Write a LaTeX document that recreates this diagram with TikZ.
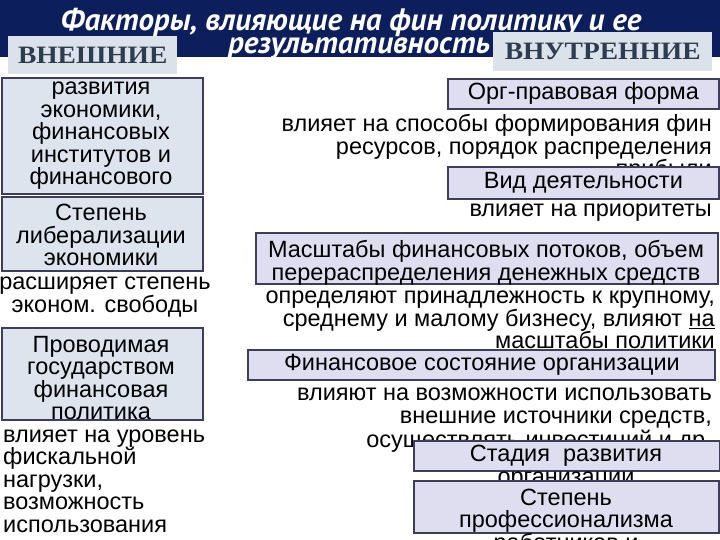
\documentclass[tikz,border=0pt]{standalone}
\usepackage{fontspec}
\setmainfont{Liberation Sans}
\newfontfamily\titlefont{PT Sans}
\newfontfamily\capsfont{Liberation Serif}
\usetikzlibrary{positioning}
\definecolor{navy}{RGB}{12,30,92}
\definecolor{lfill}{RGB}{221,228,238}
\definecolor{rfill}{RGB}{222,222,240}
\definecolor{boxline}{RGB}{62,62,92}
\definecolor{capcol}{RGB}{46,60,82}
\definecolor{capfill}{RGB}{220,226,234}

\begin{document}
\begin{tikzpicture}[x=1pt,y=-1pt,every node/.style={font=\fontsize{23.5}{22.5}\selectfont,inner sep=0pt}]
  \tikzset{
    lbox/.style={draw=boxline,line width=1.8pt,fill=lfill,anchor=north west,minimum width=201pt},
    rbox/.style={draw=boxline,line width=1.8pt,fill=rfill,anchor=north west},
    txt/.style={align=center},
    note/.style={align=right,anchor=east},
    headbox/.style={fill=capfill,anchor=north west},
    headtext/.style={text=capcol,font=\capsfont\bfseries\fontsize{25}{25}\selectfont,xscale=1.1},
    titletext/.style={text=white,font=\titlefont\bfseries\itshape\fontsize{31}{31}\selectfont}
  }
  \useasboundingbox (0,0) rectangle (720,540);
  \clip (0,0) rectangle (720,540);
  \fill[navy] (0,0) rectangle (720,57);
  \node[titletext] (title) at (351,23) {Факторы, влияющие на фин политику и ее};
  \node[titletext] (title2) at (359,49) {результативность};

  \node[headbox,minimum width=169pt,minimum height=38pt] (ext) at (8,36) {};
  \node[headtext] (extt) at (ext.center) {ВНЕШНИЕ};
  \node[headbox,minimum width=219pt,minimum height=39pt] (int) at (493,32) {};
  \node[headtext] (intt) at (int.center) {ВНУТРЕННИЕ};

  \node[lbox,minimum height=116pt] (l1) at (1,77) {};
  \node[txt] (l1t) at (101,136) {развития\\экономики,\\финансовых\\институтов и\\финансового};
  \node[lbox,minimum height=74pt] (l2) at (1,196) {};
  \node[txt] (l2t) at (101,235) {Степень\\либерализации\\экономики};
  \node[txt] (l2n) at (105,297) {расширяет степень\\эконом. свободы};
  \node[lbox,minimum height=92pt] (l3) at (1,327) {};
  \node[txt] (l3t) at (101,378) {Проводимая\\государством\\финансовая\\политика};
  \node[align=left,anchor=west] (l3n) at (3,481) {влияет на уровень\\фискальной\\нагрузки,\\возможность\\использования};

  \node[note] (r1n) at (712,148) {влияет на способы формирования фин\\ресурсов, порядок распределения\\прибыли};
  \node[rbox,minimum width=271pt,minimum height=30pt] (r1) at (447,78) {};
  \node[txt] (r1t) at (r1.center) {Орг-правовая форма};
  \node[rbox,minimum width=271pt,minimum height=32pt] (r2) at (447,166) {};
  \node[txt] (r2t) at (r2.center) {Вид деятельности};
  \node[note] (r2n) at (712,213) {влияет на приоритеты};
  \node[rbox,minimum width=462pt,minimum height=51pt] (r3) at (255,232) {};
  \node[txt] (r3t) at (486,263) {Масштабы финансовых потоков, объем\\перераспределения денежных средств};
  \node[note] (r3n) at (715,321) {определяют принадлежность к крупному,\\среднему и малому бизнесу, влияют \underline{на}\\\underline{масштабы политики}};
  \node[rbox,minimum width=467pt,minimum height=30pt] (r4) at (247,349) {};
  \node[txt] (r4t) at (482,365) {Финансовое состояние организации};
  \node[note,font=\fontsize{23.5}{23.5}\selectfont] (r4n) at (712,420) {влияют на возможности использовать\\внешние источники средств,\\осуществлять инвестиций и др.};
  \node[rbox,minimum width=306pt,minimum height=30pt] (r5) at (413,440) {};
  \node[txt] (r5t) at (566,467) {Стадия~ развития\\организации};
  \node[rbox,minimum width=305pt,minimum height=52pt] (r6) at (413,480) {};
  \node[txt] (r6t) at (566,522) {Степень\\профессионализма\\работников и};
\end{tikzpicture}
\end{document}
